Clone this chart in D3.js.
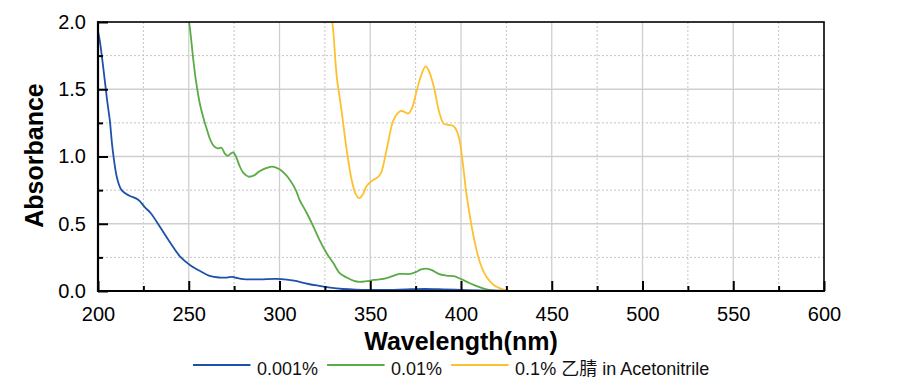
<!DOCTYPE html>
<html>
<head>
<meta charset="utf-8">
<script src="https://cdn.jsdelivr.net/npm/d3@7"></script>
<style>
  html, body { margin: 0; padding: 0; background: #fff; }
  svg { display: block; font-family: "Liberation Sans", Arial, "Noto Sans CJK SC", sans-serif; }
</style>
</head>
<body>
<svg id="chart" width="912" height="389"></svg>
<script>
// ---------- data ----------
const seriesNames = ["0.001%", "0.01%", "0.1% 乙腈 in Acetonitrile"];
const seriesColors = ["#1f51aa", "#5aab46", "#fec02e"];

const blueNm = [200, 201, 203, 205, 206.5, 208, 210.5, 213, 217, 222, 226, 229, 234, 240, 245, 251, 256, 262, 267, 271, 274, 277, 280, 289, 298, 304, 308, 316, 322, 328, 335, 342, 350, 360, 370, 380, 390, 400, 410, 420, 440, 500, 600];
const blueAbs = [1.93, 1.86, 1.65, 1.42, 1.27, 1.06, 0.84, 0.75, 0.71, 0.68, 0.62, 0.58, 0.48, 0.355, 0.26, 0.19, 0.15, 0.11, 0.10, 0.10, 0.105, 0.095, 0.088, 0.087, 0.09, 0.085, 0.077, 0.052, 0.038, 0.025, 0.015, 0.01, 0.008, 0.008, 0.012, 0.015, 0.012, 0.008, 0.004, 0.002, 0, 0, 0];

const greenNm = [249.5, 250.5, 252.5, 254, 256, 258, 260, 262, 264, 266, 268, 270, 271.5, 273, 274.5, 276, 278, 280, 283, 286, 289, 293, 296, 300, 303, 306, 309, 311, 315, 319, 322, 326, 330, 333, 337, 341, 344, 348, 352, 356, 359, 363, 366, 372, 375, 378, 381, 384, 388, 392, 396, 399, 403, 407, 411, 414, 418, 425, 440];
const greenAbs = [2.05, 1.97, 1.72, 1.56, 1.40, 1.29, 1.20, 1.12, 1.075, 1.06, 1.065, 1.02, 1.005, 1.02, 1.03, 1.0, 0.93, 0.88, 0.85, 0.86, 0.89, 0.915, 0.925, 0.905, 0.87, 0.82, 0.75, 0.68, 0.58, 0.47, 0.38, 0.28, 0.2, 0.135, 0.1, 0.075, 0.068, 0.073, 0.082, 0.088, 0.095, 0.115, 0.127, 0.127, 0.14, 0.16, 0.166, 0.155, 0.125, 0.115, 0.11, 0.095, 0.07, 0.045, 0.025, 0.012, 0.005, 0.001, 0];

const yellowNm = [328.5, 329.5, 331.5, 334, 337, 339.7, 342, 344, 346, 348, 351, 354, 356, 359, 362.5, 365, 367, 369, 371, 373, 375.6, 378, 380.5, 382.5, 385, 388, 390.5, 393, 396, 398, 399.5, 401, 403, 405, 407, 410.5, 414, 418, 421.5, 425, 430];
const yellowAbs = [2.05, 1.95, 1.6, 1.36, 1.05, 0.83, 0.72, 0.69, 0.72, 0.78, 0.82, 0.845, 0.88, 1.05, 1.26, 1.32, 1.34, 1.33, 1.32, 1.36, 1.49, 1.6, 1.67, 1.63, 1.52, 1.33, 1.245, 1.235, 1.225, 1.18, 1.10, 0.95, 0.72, 0.55, 0.40, 0.21, 0.106, 0.045, 0.02, 0.005, 0];

const xMajorTicks = [200, 250, 300, 350, 400, 450, 500, 550, 600];
const xMinorTicks = [225, 275, 325, 375, 425, 475, 525, 575];
const yMajorTicks = [0, 0.5, 1.0, 1.5, 2.0];
const yMinorTicks = [0.25, 0.75, 1.25, 1.75];
const xTitle = "Wavelength(nm)";
const yTitle = "Absorbance";

// ---------- layout ----------
const L = 98, T = 22, R = 824, B = 291;
const svg = d3.select("#chart");
const x = d3.scaleLinear().domain([200, 600]).range([L, R]);
const y = d3.scaleLinear().domain([0, 2]).range([B, T]);

// grid
const grid = svg.append("g");
grid.selectAll(".gxm").data(xMinorTicks).join("line")
  .attr("x1", d => x(d)).attr("x2", d => x(d)).attr("y1", T).attr("y2", B)
  .attr("stroke", "#c4c4c4").attr("stroke-width", 1).attr("stroke-dasharray", "2,2");
grid.selectAll(".gym").data(yMinorTicks).join("line")
  .attr("y1", d => y(d)).attr("y2", d => y(d)).attr("x1", L).attr("x2", R)
  .attr("stroke", "#c4c4c4").attr("stroke-width", 1).attr("stroke-dasharray", "2,2");
grid.selectAll(".gxM").data(xMajorTicks.slice(1, -1)).join("line")
  .attr("x1", d => x(d)).attr("x2", d => x(d)).attr("y1", T).attr("y2", B)
  .attr("stroke", "#cfcfcf").attr("stroke-width", 1.3);
grid.selectAll(".gyM").data(yMajorTicks.slice(1, -1)).join("line")
  .attr("y1", d => y(d)).attr("y2", d => y(d)).attr("x1", L).attr("x2", R)
  .attr("stroke", "#cfcfcf").attr("stroke-width", 1.3);

// clip
svg.append("clipPath").attr("id", "clip").append("rect")
  .attr("x", L).attr("y", T).attr("width", R - L).attr("height", B - T);

const series = [
  [blueNm, blueAbs],
  [greenNm, greenAbs],
  [yellowNm, yellowAbs]
];
const line = d3.line().x(d => x(d[0])).y(d => y(d[1])).curve(d3.curveCatmullRom.alpha(0.5));
const lines = svg.append("g").attr("clip-path", "url(#clip)");
[2, 1, 0].forEach(i => {
  const pts = series[i][0].map((v, k) => [v, series[i][1][k]]);
  lines.append("path").datum(pts).attr("d", line)
    .attr("fill", "none").attr("stroke", seriesColors[i]).attr("stroke-width", 1.8);
});

// axes
const fontSize = 20;
const xAxis = svg.append("g").attr("transform", `translate(0,${B})`)
  .call(d3.axisBottom(x).tickValues(xMajorTicks).tickSize(-10).tickPadding(16).tickFormat(d3.format("d")));
const xAxisMinor = svg.append("g").attr("transform", `translate(0,${B})`)
  .call(d3.axisBottom(x).tickValues(xMinorTicks).tickSize(-5).tickFormat(""));
const yAxis = svg.append("g").attr("transform", `translate(${L},0)`)
  .call(d3.axisLeft(y).tickValues(yMajorTicks).tickSize(-10).tickPadding(12).tickFormat(d3.format(".1f")));
const yAxisMinor = svg.append("g").attr("transform", `translate(${L},0)`)
  .call(d3.axisLeft(y).tickValues(yMinorTicks).tickSize(-5).tickFormat(""));
[xAxis, xAxisMinor, yAxis, yAxisMinor].forEach(g => {
  g.select(".domain").remove();
  g.selectAll(".tick line").attr("stroke", "#000").attr("stroke-width", 2);
  g.selectAll("text").attr("font-size", fontSize).attr("fill", "#000")
    .attr("font-family", "'Liberation Sans', Arial, sans-serif");
});

// frame
svg.append("rect").attr("x", L).attr("y", T).attr("width", R - L).attr("height", B - T)
  .attr("fill", "none").attr("stroke", "#000").attr("stroke-width", 1.6);
svg.append("line").attr("x1", L).attr("x2", L).attr("y1", T - 0.8).attr("y2", B + 1)
  .attr("stroke", "#000").attr("stroke-width", 2.2);
svg.append("line").attr("x1", L - 1).attr("x2", R + 0.8).attr("y1", B).attr("y2", B)
  .attr("stroke", "#000").attr("stroke-width", 2.2);

// titles
svg.append("text").attr("x", (L + R) / 2).attr("y", 350).attr("text-anchor", "middle")
  .attr("font-size", 25).attr("font-weight", "bold").text(xTitle);
svg.append("text").attr("transform", `translate(43,${(T + B) / 2 - 1}) rotate(-90)`)
  .attr("text-anchor", "middle").attr("font-size", 25).attr("font-weight", "bold").text(yTitle);

// legend
const leg = svg.append("g");
let lx = 193;
const ly = 365;
seriesNames.forEach((name, i) => {
  leg.append("line").attr("x1", lx).attr("x2", lx + 57.5).attr("y1", ly).attr("y2", ly)
    .attr("stroke", seriesColors[i]).attr("stroke-width", 2);
  const t = leg.append("text").attr("x", lx + 64).attr("y", 375).attr("font-size", 18)
    .attr("fill", "#111").text(name);
  lx = lx + 64 + t.node().getComputedTextLength() + 9;
});
</script>
</body>
</html>
